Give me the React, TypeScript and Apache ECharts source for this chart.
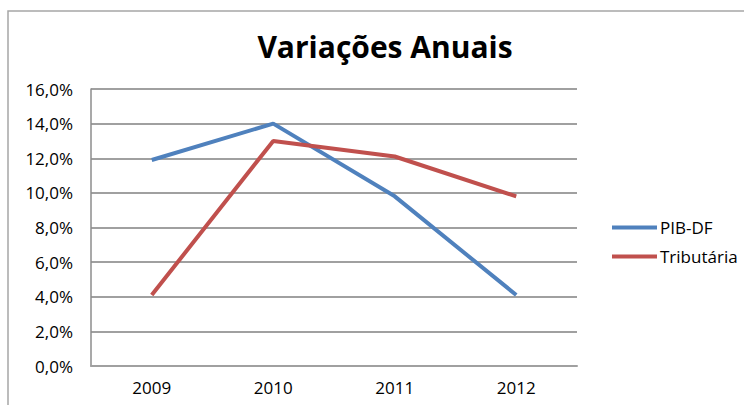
import { useEffect, useRef } from 'react';
import * as echarts from 'echarts';

const years = ['2009', '2010', '2011', '2012'];
const pibDf = [11.9, 14.0, 9.8, 4.1];
const tributaria = [4.1, 13.0, 12.1, 9.8];
const seriesNames = ['PIB-DF', 'Tributária'];

const FONT = '"Open Sans", sans-serif';

const App = () => {
  const chartRef = useRef<HTMLDivElement>(null);

  useEffect(() => {
    if (!chartRef.current) return;
    const chart = echarts.init(chartRef.current, null, { renderer: 'svg' });

    chart.setOption({
      animation: false,
      backgroundColor: '#ffffff',
      title: {
        text: 'Variações Anuais',
        left: 380,
        textAlign: 'center',
        top: 26,
        textStyle: { fontFamily: FONT, fontSize: 30, fontWeight: 'bold', color: '#000000' }
      },
      graphic: [
        {
          type: 'rect',
          shape: { x: 8, y: 11, width: 800, height: 500 },
          style: { fill: 'none', stroke: '#a6a6a6', lineWidth: 1.5 },
          silent: true
        }
      ],
      legend: {
        orient: 'vertical',
        left: 607,
        top: 214,
        itemWidth: 45,
        itemHeight: 4,
        itemGap: 12,
        icon: 'rect',
        data: seriesNames.map((name, i) => ({
          name,
          itemStyle: { color: i === 0 ? '#4f81bd' : '#c0504d' }
        })),
        textStyle: { fontFamily: FONT, fontSize: 17, color: '#000000', padding: [0, 0, 0, -2] }
      },
      grid: { left: 91, right: 167, top: 89, bottom: 39 },
      xAxis: {
        type: 'category',
        data: years,
        boundaryGap: true,
        axisLine: { show: true, lineStyle: { color: '#a0a0a0', width: 2 } },
        axisTick: { show: false },
        axisLabel: { fontFamily: FONT, fontSize: 17, color: '#000000', margin: 13 }
      },
      yAxis: {
        type: 'value',
        min: 0,
        max: 16,
        interval: 2,
        axisLine: { show: true, lineStyle: { color: '#8c8c8c', width: 1.5 } },
        axisTick: { show: false },
        splitLine: { lineStyle: { color: '#a0a0a0', width: 2 } },
        axisLabel: {
          fontFamily: FONT,
          fontSize: 17,
          color: '#000000',
          margin: 18,
          formatter: (v: number) => v.toFixed(1).replace('.', ',') + '%'
        }
      },
      series: [
        {
          name: seriesNames[0],
          type: 'line',
          data: pibDf,
          symbol: 'none',
          lineStyle: { color: '#4f81bd', width: 4 },
          itemStyle: { color: '#4f81bd' }
        },
        {
          name: seriesNames[1],
          type: 'line',
          data: tributaria,
          symbol: 'none',
          lineStyle: { color: '#c0504d', width: 4 },
          itemStyle: { color: '#c0504d' }
        }
      ]
    });

    return () => {
      chart.dispose();
    };
  }, []);

  return (
    <div
      ref={chartRef}
      style={{ position: 'absolute', left: 0, top: 0, width: 744, height: 405 }}
    />
  );
};

export default App;
